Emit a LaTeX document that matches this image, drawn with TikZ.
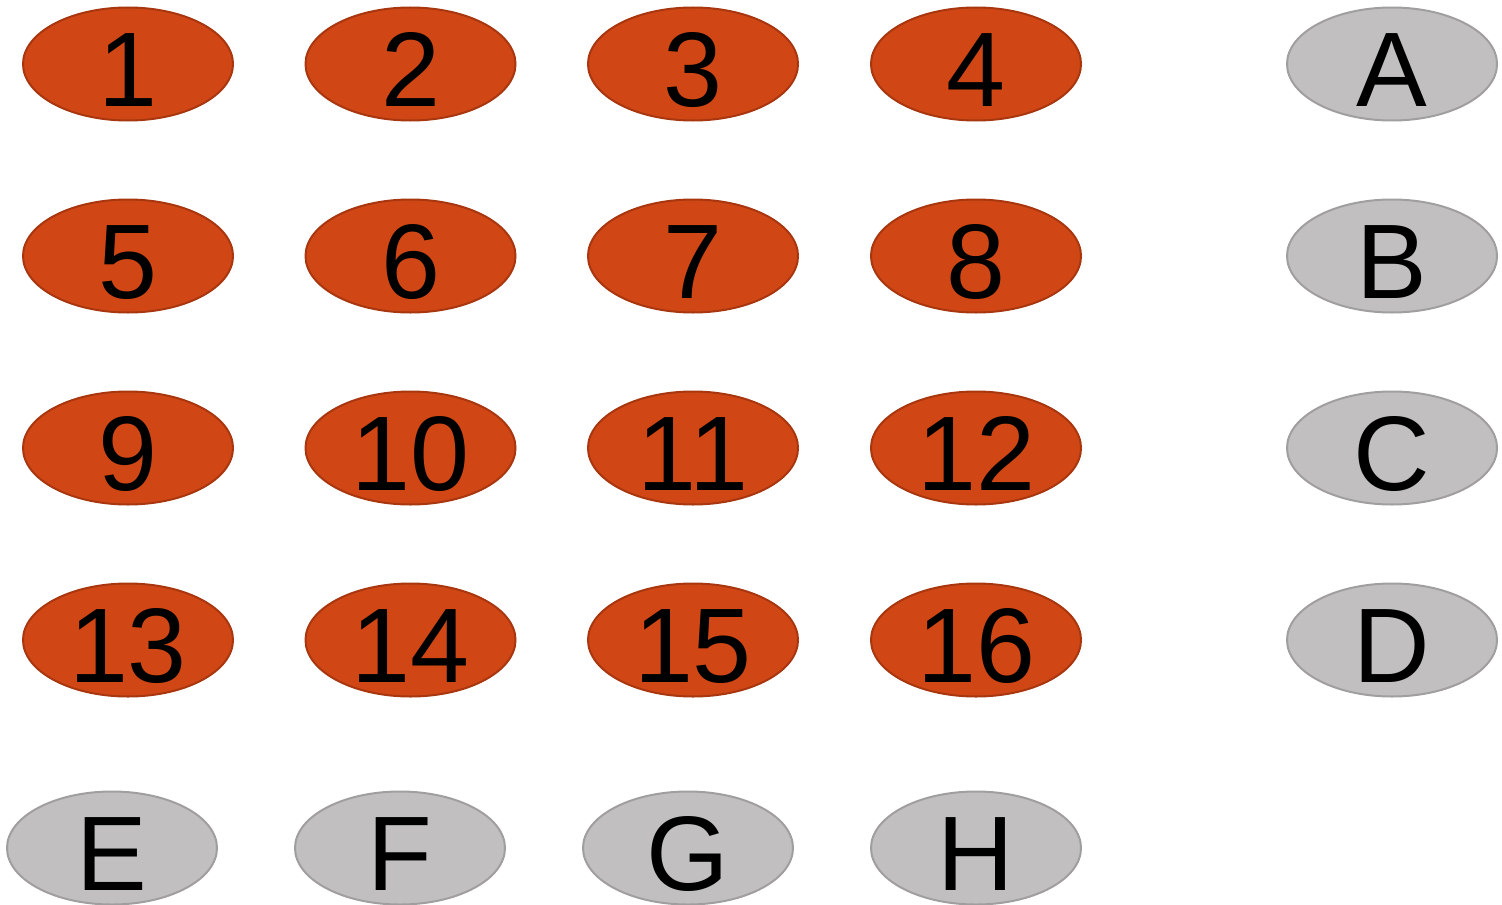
\documentclass[tikz,border=0pt]{standalone}
\usepackage{fontspec}
\setmainfont{Liberation Sans}
\usetikzlibrary{shapes.geometric}
\definecolor{cellfill}{HTML}{D04715}
\definecolor{celldraw}{HTML}{A8360F}
\definecolor{sparefill}{HTML}{C1BFBF}
\definecolor{sparedraw}{HTML}{A09E9E}
\begin{document}
\begin{tikzpicture}[x=0.5pt,y=-0.5pt,
    oval/.style={ellipse, minimum width=105pt, minimum height=56.5pt, inner sep=0pt,
      text height=42pt, text depth=0pt, inner ysep=-4pt,
      line width=1pt, font=\fontsize{53}{54}\selectfont},
    cell/.style={oval, fill=cellfill, draw=celldraw},
    spare/.style={oval, fill=sparefill, draw=sparedraw}]
  \useasboundingbox (0,0) rectangle (1502,904);
  \foreach \r in {0,...,3}
    \foreach \c/\x in {1/128,2/410.5,3/693,4/976}{
      \pgfmathtruncatemacro{\k}{4*\r+\c}
      \node[cell] (n\k) at (\x,64+192*\r) {\k};
    }
  \node[spare] (A) at (1392,64) {A};
  \node[spare] (B) at (1392,256) {B};
  \node[spare] (C) at (1392,448) {C};
  \node[spare] (D) at (1392,640) {D};
  \node[spare] (E) at (112,848) {E};
  \node[spare] (F) at (400,848) {F};
  \node[spare] (G) at (688,848) {G};
  \node[spare] (H) at (976,848) {H};
\end{tikzpicture}
\end{document}
